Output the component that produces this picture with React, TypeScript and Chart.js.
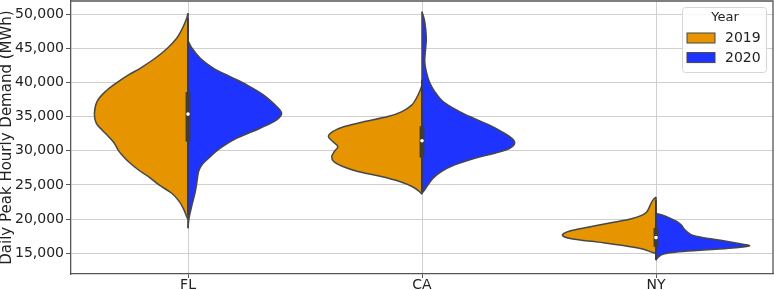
import React, { useEffect, useRef } from "react";
import { Chart, registerables } from "chart.js";

Chart.register(...registerables);

// ---------- data ----------
const categories = ["FL", "CA", "NY"];
const years = ["2019", "2020"];
const yearColors = ["#E69500", "#1F33FF"];
const yTicks = [15000, 20000, 25000, 30000, 35000, 40000, 45000, 50000];
const yTitle = "Daily Peak Hourly Demand (MWh)";
const legendTitle = "Year";

// Density outlines: demand level (MWh) and relative half-width (0..1)
const flDemand2019 = [50150, 49410, 48440, 47460, 46490, 45020, 43560, 42090, 41120, 40000, 38680, 37220, 35400, 34020, 33050, 32070, 31100, 30000, 29140, 28170, 27190, 26220, 25000, 23780, 22560, 21340, 20360, 19950];
const flWidth2019 = [0, 0.014, 0.043, 0.078, 0.121, 0.22, 0.351, 0.511, 0.635, 0.759, 0.883, 0.972, 1.0, 0.979, 0.918, 0.848, 0.787, 0.741, 0.688, 0.617, 0.528, 0.422, 0.31, 0.174, 0.092, 0.043, 0.014, 0];
const flDemand2020 = [46140, 45020, 43560, 42090, 40870, 39650, 38190, 36730, 35510, 34530, 33310, 31850, 30380, 28920, 27940, 26970, 25500, 24040, 22090, 20130, 18670];
const flWidth2020 = [0, 0.043, 0.131, 0.273, 0.45, 0.628, 0.805, 0.929, 1.0, 0.947, 0.77, 0.521, 0.344, 0.22, 0.149, 0.113, 0.096, 0.078, 0.043, 0.011, 0];

const caDemand2019 = [39660, 38680, 37700, 36730, 35750, 35020, 34290, 33550, 32820, 32090, 31360, 30630, 29900, 29160, 28430, 27700, 26970, 26230, 25500, 24770, 24140, 23650];
const caWidth2019 = [0, 0.025, 0.061, 0.107, 0.214, 0.364, 0.614, 0.829, 0.954, 1.0, 0.954, 0.9, 0.936, 0.964, 0.943, 0.846, 0.686, 0.436, 0.239, 0.107, 0.036, 0];
const caDemand2020 = [50390, 48930, 46490, 45020, 43070, 41610, 40000, 38680, 37220, 35750, 34780, 33800, 32820, 31850, 31110, 30380, 29650, 28920, 27940, 26970, 25990, 25010, 24280, 23790];
const caWidth2020 = [0, 0.029, 0.046, 0.039, 0.029, 0.046, 0.082, 0.136, 0.225, 0.4, 0.55, 0.715, 0.85, 0.957, 0.99, 0.939, 0.779, 0.564, 0.35, 0.207, 0.118, 0.064, 0.029, 0];

const nyDemand2019 = [23230, 22990, 22500, 21760, 21030, 20540, 20050, 19560, 19070, 18580, 18090, 17600, 17110, 16620, 16130, 15640, 15150, 14950];
const nyWidth2019 = [0, 0.021, 0.046, 0.071, 0.1, 0.154, 0.261, 0.439, 0.636, 0.814, 0.957, 1.0, 0.904, 0.618, 0.35, 0.154, 0.046, 0];
const nyDemand2020 = [20830, 20590, 20100, 19610, 19120, 18630, 18140, 17650, 17300, 16910, 16420, 16080, 15790, 15540, 15200, 14810, 14220, 13970];
const nyWidth2020 = [0, 0.064, 0.154, 0.225, 0.271, 0.296, 0.332, 0.386, 0.493, 0.689, 0.886, 1.0, 0.85, 0.6, 0.243, 0.064, 0.011, 0];

// Inner box statistics per category (pooled)
const q1 = [31370, 29030, 15970];
const medians = [35380, 31480, 17280];
const q3 = [38600, 33570, 18700];
const whiskerLow = [20600, 24000, 14000];
const whiskerHigh = [49400, 40400, 22750];

// ---------- styling ----------
const FONT = "'DejaVu Sans', sans-serif";
const OUTLINE = "#474747";
const BOXCOLOR = "#3d3d3d";
const GRID = "#cfcfcf";
const SPINE = "#555555";
const TEXT = "#222222";
const HALF = 0.4;

const violins = [
  { cat: 0, year: 0, demand: flDemand2019, width: flWidth2019 },
  { cat: 0, year: 1, demand: flDemand2020, width: flWidth2020 },
  { cat: 1, year: 0, demand: caDemand2019, width: caWidth2019 },
  { cat: 1, year: 1, demand: caDemand2020, width: caWidth2020 },
  { cat: 2, year: 0, demand: nyDemand2019, width: nyWidth2019 },
  { cat: 2, year: 1, demand: nyDemand2020, width: nyWidth2020 },
];

function buildDatasets(): any[] {
  const ds: any[] = [];
  violins.forEach((v) => {
    const side = v.year === 0 ? -1 : 1;
    ds.push({
      label: `${categories[v.cat]} ${years[v.year]}`,
      data: v.demand.map((y, i) => ({ x: v.cat + side * v.width[i] * HALF, y })),
      showLine: true,
      fill: "shape",
      backgroundColor: yearColors[v.year],
      borderColor: OUTLINE,
      borderWidth: 1.5,
      pointRadius: 0,
      tension: 0.35,
      order: 10,
    });
  });
  categories.forEach((_, c) => {
    const halves = violins.filter((v) => v.cat === c);
    const top = Math.max(...halves.map((h) => h.demand[0]));
    const bottom = Math.min(...halves.map((h) => h.demand[h.demand.length - 1]));
    ds.push({
      label: "center",
      data: [{ x: c, y: top }, { x: c, y: bottom }],
      showLine: true,
      borderColor: OUTLINE,
      borderWidth: 1.5,
      pointRadius: 0,
      order: 6,
    });
    ds.push({
      label: "whisker",
      data: [{ x: c, y: whiskerLow[c] }, { x: c, y: whiskerHigh[c] }],
      showLine: true,
      borderColor: BOXCOLOR,
      borderWidth: 1.5,
      pointRadius: 0,
      order: 3,
      onTop: true,
    });
    ds.push({
      label: "box",
      data: [{ x: c, y: q1[c] }, { x: c, y: q3[c] }],
      showLine: true,
      borderColor: BOXCOLOR,
      borderWidth: 4.5,
      borderCapStyle: "butt",
      pointRadius: 0,
      order: 2,
      onTop: true,
    });
    ds.push({
      label: "median",
      data: [{ x: c, y: medians[c] }],
      showLine: false,
      pointRadius: 1.8,
      pointBackgroundColor: "#ffffff",
      pointBorderWidth: 0,
      order: 1,
      onTop: true,
    });
  });
  return ds;
}

const overlayPlugin = {
  id: "overlay",
  afterDraw(chart: any) {
    const ctx = chart.ctx;
    const a = chart.chartArea;
    // line marks above grid (matplotlib z-order)
    ctx.save();
    ctx.beginPath();
    ctx.rect(a.left, a.top, a.right - a.left, a.bottom - a.top);
    ctx.clip();
    const order = chart.data.datasets
      .map((d: any, i: number) => ({ d, i }))
      .filter((o: any) => o.d.onTop)
      .sort((p: any, q: any) => q.d.order - p.d.order);
    order.forEach((o: any) => chart.getDatasetMeta(o.i).controller.draw());
    ctx.restore();

    // top & right spines
    ctx.save();
    ctx.strokeStyle = SPINE;
    ctx.lineWidth = 1.3;
    ctx.beginPath();
    ctx.moveTo(a.left, a.top);
    ctx.lineTo(a.right, a.top);
    ctx.lineTo(a.right, a.bottom);
    ctx.stroke();
    ctx.restore();

    // legend
    const w = 84, h = 65;
    const left = a.right - 7 - w;
    const top = a.top + 6;
    ctx.save();
    ctx.beginPath();
    (ctx as any).roundRect(left + 0.5, top + 0.5, w, h, 3);
    ctx.fillStyle = "rgba(255,255,255,0.85)";
    ctx.fill();
    ctx.strokeStyle = "#d6d6d6";
    ctx.lineWidth = 1;
    ctx.stroke();
    ctx.fillStyle = TEXT;
    ctx.textBaseline = "middle";
    ctx.textAlign = "center";
    ctx.font = `13px ${FONT}`;
    ctx.fillText(legendTitle, left + 43, top + 11);
    years.forEach((yr, i) => {
      const py = top + 26 + i * 19.6;
      ctx.fillStyle = yearColors[i];
      ctx.fillRect(left + 5, py, 28, 10);
      ctx.strokeStyle = OUTLINE;
      ctx.lineWidth = 1;
      ctx.strokeRect(left + 5, py, 28, 10);
      ctx.fillStyle = TEXT;
      ctx.textAlign = "left";
      ctx.font = `14px ${FONT}`;
      ctx.fillText(yr, left + 43, py + 5.5);
    });
    ctx.restore();
  },
};

export default function App() {
  const ref = useRef<HTMLCanvasElement | null>(null);

  useEffect(() => {
    if (!ref.current) return;
    Chart.defaults.font.family = FONT;
    const chart = new Chart(ref.current, {
      type: "scatter",
      data: { datasets: buildDatasets() },
      options: {
        animation: false,
        responsive: false,
        devicePixelRatio: 1,
        layout: { autoPadding: false, padding: { top: 1, right: 1, left: 0, bottom: 0 } },
        plugins: { legend: { display: false }, tooltip: { enabled: false } },
        scales: {
          x: {
            type: "linear",
            min: -0.5,
            max: 2.5,
            z: 1,
            afterBuildTicks: (axis: any) => {
              axis.ticks = categories.map((_, i) => ({ value: i }));
            },
            afterFit: (axis: any) => {
              axis.height = 16;
              axis.paddingLeft = 0;
              axis.paddingRight = 0;
            },
            ticks: {
              callback: (v: any) => categories[v] ?? "",
              font: { family: FONT, size: 14, lineHeight: 1 },
              color: TEXT,
              padding: 0,
              maxRotation: 0,
              autoSkip: false,
            },
            grid: { color: GRID, lineWidth: 1, tickLength: 4, tickColor: SPINE, drawTicks: true },
            border: { color: SPINE, width: 1.3 },
          },
          y: {
            type: "linear",
            min: 11950,
            max: 51950,
            z: 1,
            afterBuildTicks: (axis: any) => {
              axis.ticks = yTicks.map((v) => ({ value: v }));
            },
            afterFit: (axis: any) => {
              axis.width = 71;
              axis.paddingTop = 0;
              axis.paddingBottom = 0;
            },
            ticks: {
              callback: (v: any) => Number(v).toLocaleString("en-US"),
              font: { family: FONT, size: 14, lineHeight: 1 },
              color: TEXT,
              padding: 2,
            },
            grid: { color: GRID, lineWidth: 1, tickLength: 5, tickColor: SPINE, drawTicks: true },
            border: { color: SPINE, width: 1.3 },
            title: {
              display: true,
              text: yTitle,
              font: { family: FONT, size: 15, lineHeight: 1 },
              color: TEXT,
              padding: 0,
            },
          },
        },
      } as any,
      plugins: [overlayPlugin as any],
    });
    return () => chart.destroy();
  }, []);

  return (
    <canvas
      ref={ref}
      width={774}
      height={290}
      style={{ position: "absolute", left: 0, top: 0, width: 774, height: 290 }}
    />
  );
}
